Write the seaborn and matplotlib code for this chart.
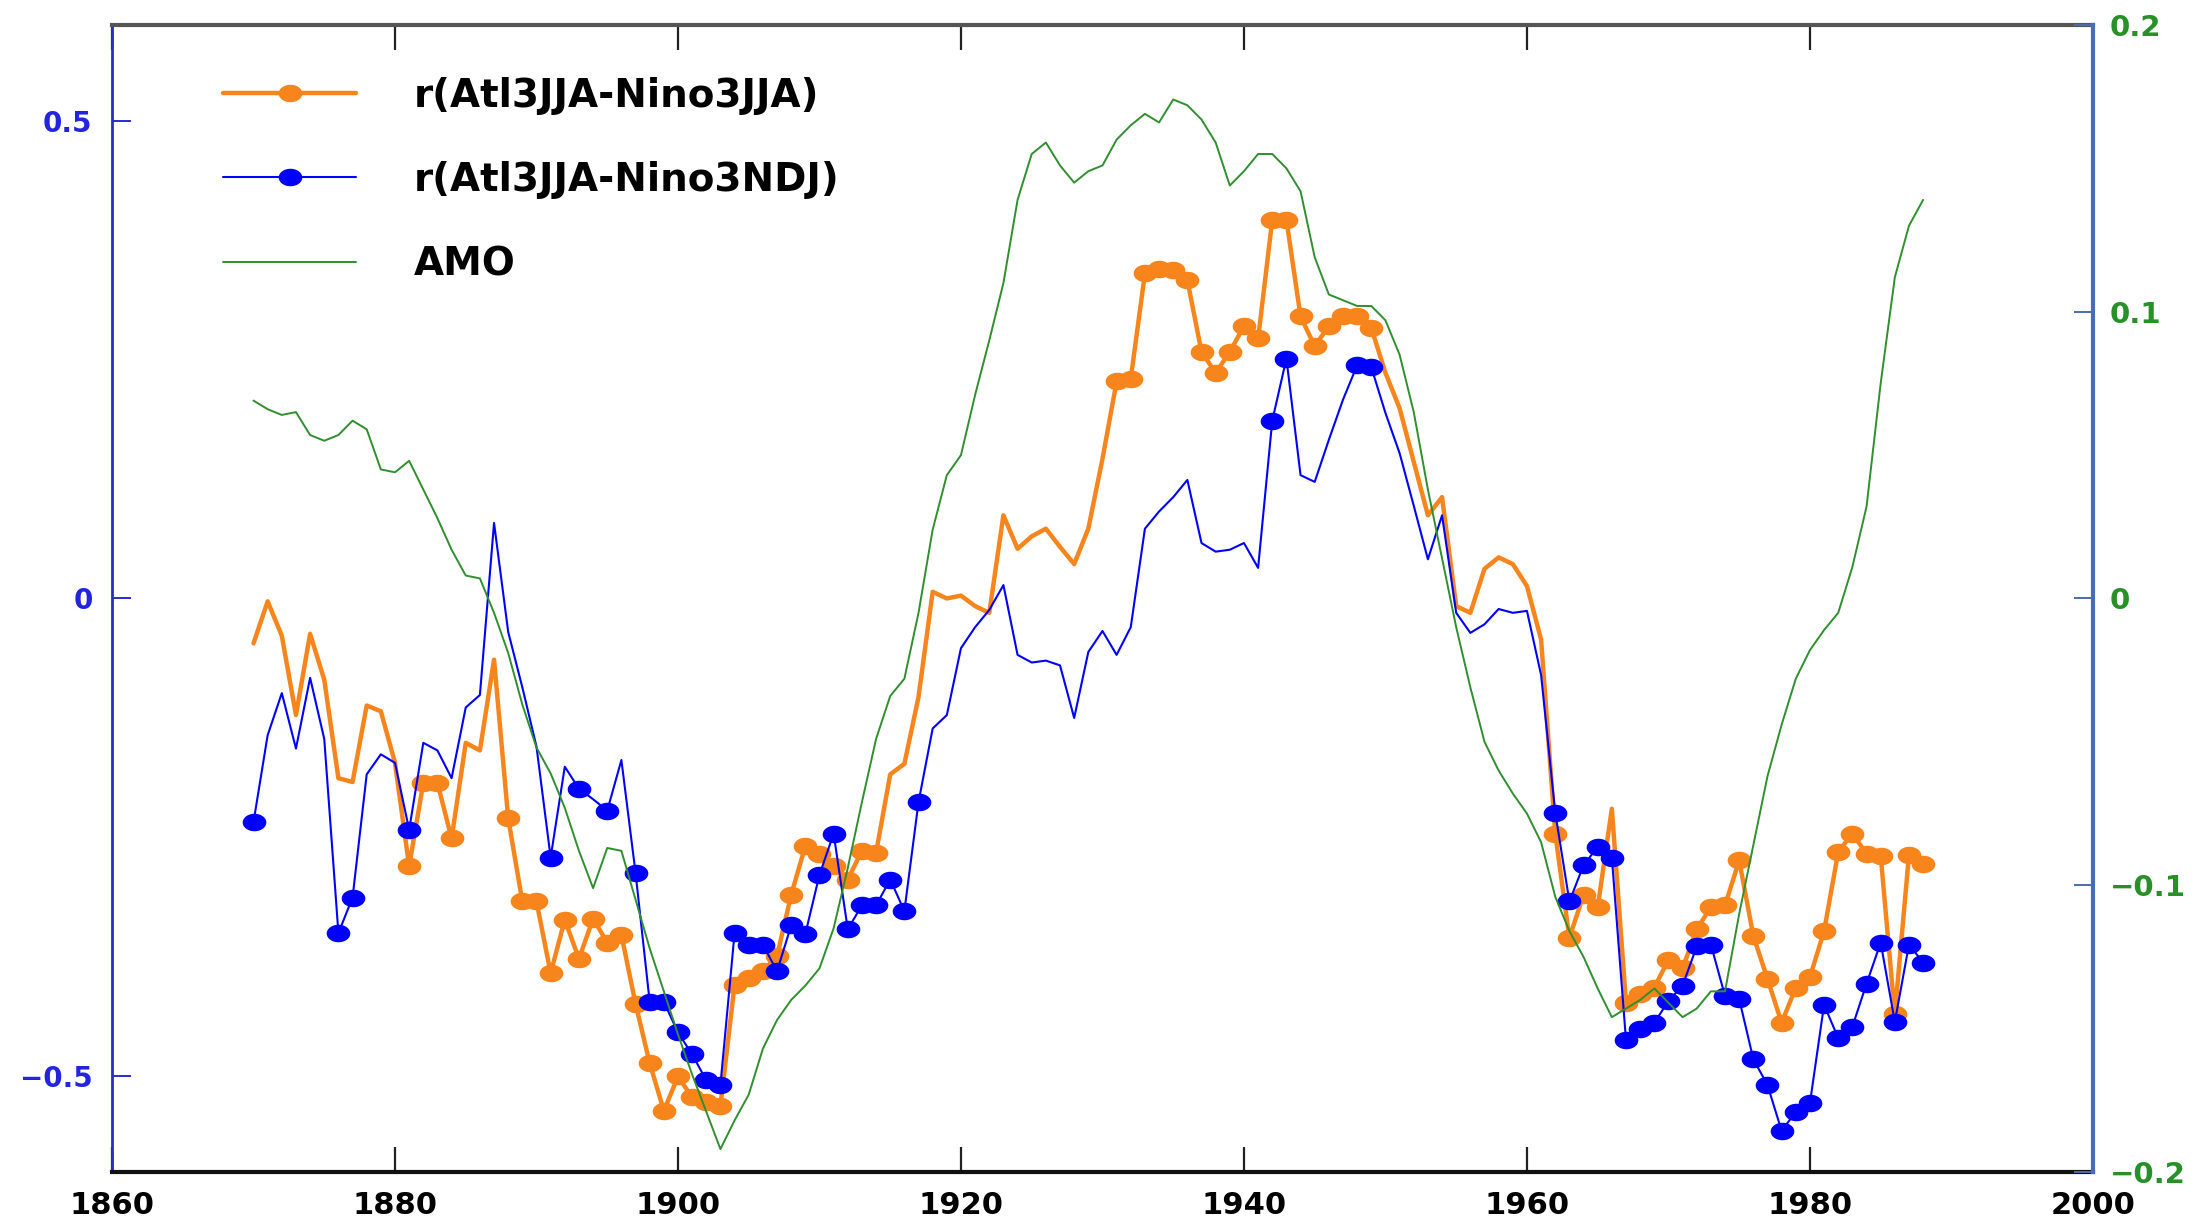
import numpy as np
import pandas as pd
import matplotlib
matplotlib.use("Agg")
import matplotlib.pyplot as plt
import seaborn as sns
from matplotlib.path import Path
from matplotlib.lines import Line2D

# ---------------- data ----------------
years = list(range(1870, 1989))

r_jja = [
    -0.047, -0.003, -0.039, -0.122, -0.037, -0.085, -0.188, -0.192, -0.112, -0.118,   # 1870-1879
    -0.172, -0.280, -0.193, -0.193, -0.251, -0.151, -0.159, -0.064, -0.230, -0.317,   # 1880-1889
    -0.317, -0.392, -0.336, -0.377, -0.335, -0.360, -0.352, -0.424, -0.486, -0.536,   # 1890-1899
    -0.500, -0.522, -0.527, -0.531, -0.404, -0.397, -0.390, -0.374, -0.310, -0.259,   # 1900-1909
    -0.267, -0.280, -0.294, -0.264, -0.266, -0.184, -0.173, -0.103, 0.007, 0.000,     # 1910-1919
    0.003, -0.008, -0.015, 0.087, 0.052, 0.065, 0.073, 0.054, 0.036, 0.073,          # 1920-1929
    0.146, 0.227, 0.230, 0.340, 0.345, 0.344, 0.333, 0.258, 0.236, 0.258,            # 1930-1939
    0.285, 0.272, 0.396, 0.396, 0.295, 0.264, 0.285, 0.295, 0.295, 0.283,            # 1940-1949
    0.236, 0.199, 0.143, 0.087, 0.106, -0.008, -0.015, 0.031, 0.043, 0.036,          # 1950-1959
    0.013, -0.043, -0.246, -0.355, -0.310, -0.323, -0.220, -0.423, -0.414, -0.407,   # 1960-1969
    -0.378, -0.387, -0.346, -0.323, -0.321, -0.274, -0.353, -0.398, -0.444, -0.407,  # 1970-1979
    -0.396, -0.348, -0.265, -0.246, -0.267, -0.269, -0.435, -0.268, -0.278,          # 1980-1988
]

r_ndj = [
    -0.234, -0.143, -0.099, -0.157, -0.083, -0.147, -0.350, -0.313, -0.184, -0.163,  # 1870-1879
    -0.172, -0.242, -0.151, -0.159, -0.188, -0.114, -0.101, 0.079, -0.035, -0.093,   # 1880-1889
    -0.155, -0.271, -0.176, -0.199, -0.210, -0.222, -0.169, -0.287, -0.422, -0.422,  # 1890-1899
    -0.454, -0.477, -0.504, -0.509, -0.350, -0.362, -0.362, -0.390, -0.342, -0.351,  # 1900-1909
    -0.289, -0.246, -0.346, -0.321, -0.321, -0.294, -0.327, -0.213, -0.136, -0.122,  # 1910-1919
    -0.052, -0.030, -0.012, 0.014, -0.059, -0.067, -0.065, -0.070, -0.125, -0.056,   # 1920-1929
    -0.034, -0.059, -0.030, 0.073, 0.091, 0.106, 0.124, 0.058, 0.049, 0.051,         # 1930-1939
    0.058, 0.032, 0.186, 0.251, 0.129, 0.122, 0.166, 0.208, 0.244, 0.242,            # 1940-1949
    0.194, 0.152, 0.097, 0.041, 0.087, -0.015, -0.036, -0.027, -0.011, -0.015,       # 1950-1959
    -0.013, -0.080, -0.224, -0.317, -0.279, -0.260, -0.271, -0.462, -0.450, -0.444,  # 1960-1969
    -0.421, -0.405, -0.364, -0.362, -0.416, -0.419, -0.482, -0.509, -0.557, -0.537,  # 1970-1979
    -0.528, -0.425, -0.460, -0.448, -0.403, -0.360, -0.443, -0.362, -0.381,          # 1980-1988
]

amo = [
    0.069, 0.066, 0.064, 0.065, 0.057, 0.055, 0.057, 0.062, 0.059, 0.045,            # 1870-1879
    0.044, 0.048, 0.038, 0.028, 0.017, 0.008, 0.007, -0.005, -0.019, -0.037,         # 1880-1889
    -0.052, -0.061, -0.073, -0.088, -0.101, -0.087, -0.088, -0.105, -0.122, -0.137,  # 1890-1899
    -0.152, -0.166, -0.179, -0.192, -0.182, -0.173, -0.157, -0.147, -0.140, -0.135,  # 1900-1909
    -0.129, -0.115, -0.094, -0.071, -0.049, -0.034, -0.028, -0.005, 0.024, 0.043,    # 1910-1919
    0.050, 0.071, 0.090, 0.110, 0.139, 0.155, 0.159, 0.151, 0.145, 0.149,            # 1920-1929
    0.151, 0.160, 0.165, 0.169, 0.166, 0.174, 0.172, 0.167, 0.159, 0.144,            # 1930-1939
    0.149, 0.155, 0.155, 0.150, 0.142, 0.119, 0.106, 0.104, 0.102, 0.102,            # 1940-1949
    0.097, 0.085, 0.065, 0.038, 0.014, -0.010, -0.031, -0.050, -0.060, -0.068,       # 1950-1959
    -0.075, -0.085, -0.104, -0.116, -0.125, -0.136, -0.146, -0.143, -0.140, -0.136,  # 1960-1969
    -0.141, -0.146, -0.143, -0.137, -0.137, -0.110, -0.086, -0.062, -0.044, -0.028,  # 1970-1979
    -0.018, -0.011, -0.005, 0.011, 0.032, 0.075, 0.112, 0.130, 0.139,                # 1980-1988
]

# years drawn with a dot
jja_dot_years = ([1881, 1882, 1883, 1884] + list(range(1888, 1915)) +
                 list(range(1931, 1950)) + [1962, 1963, 1964, 1965] +
                 list(range(1967, 1989)))
ndj_dot_years = ([1870, 1876, 1877, 1881, 1891, 1893, 1895] + list(range(1897, 1918)) +
                 [1942, 1943, 1948, 1949] + list(range(1962, 1989)))

labels = ["r(Atl3JJA-Nino3JJA)", "r(Atl3JJA-Nino3NDJ)", "AMO"]
xtick_vals = [1860, 1880, 1900, 1920, 1940, 1960, 1980, 2000]
left_ticks = [-0.5, 0, 0.5]
left_tick_labels = ["\u22120.5", "0", "0.5"]
right_ticks = [-0.2, -0.1, 0, 0.1, 0.2]
right_tick_labels = ["\u22120.2", "\u22120.1", "0", "0.1", "0.2"]

# ---------------- style ----------------
ORANGE = "#f7851c"
BLUE = "#0000ff"
GREEN = "#2f8f2f"

sns.set_theme(style="white")
plt.rcParams["font.family"] = ["DejaVu Sans"]

t = np.linspace(0, 2 * np.pi, 61)
ell = Path(np.c_[1.35 * np.cos(t), np.sin(t)], closed=True)

df = pd.DataFrame({"year": years, "jja": r_jja, "ndj": r_ndj, "amo": amo})

fig = plt.figure(figsize=(21.92, 12.23), dpi=100)
ax = fig.add_axes([0.0511, 0.0417, 0.9037, 0.9379])

sns.lineplot(data=df, x="year", y="jja", color=ORANGE, lw=3.2, ax=ax, zorder=2)
sns.scatterplot(data=df[df["year"].isin(jja_dot_years)], x="year", y="jja",
                marker=ell, s=290, color=ORANGE, edgecolor=ORANGE, linewidth=0,
                ax=ax, zorder=3)
sns.lineplot(data=df, x="year", y="ndj", color=BLUE, lw=1.5, ax=ax, zorder=4)
sns.scatterplot(data=df[df["year"].isin(ndj_dot_years)], x="year", y="ndj",
                marker=ell, s=290, color=BLUE, edgecolor=BLUE, linewidth=0,
                ax=ax, zorder=5)

ax2 = ax.twinx()
sns.lineplot(data=df, x="year", y="amo", color=GREEN, lw=1.4, ax=ax2)

ax.set_xlim(1860, 2000)
ax.set_ylim(-0.6, 0.6)
ax2.set_ylim(-0.2, 0.2)
for a in (ax, ax2):
    a.set_xlabel("")
    a.set_ylabel("")

ax.set_xticks(xtick_vals)
ax.set_xticklabels([str(v) for v in xtick_vals], fontweight="bold")
ax.set_yticks(left_ticks)
ax.set_yticklabels(left_tick_labels, fontweight="bold")
ax2.set_yticks(right_ticks)
ax2.set_yticklabels(right_tick_labels, fontweight="bold")

ax.tick_params(axis="x", direction="in", length=18, width=1.6, color="#222222",
               top=True, bottom=True, labelsize=22, pad=14, labelcolor="black")
ax.tick_params(axis="y", direction="in", length=14, width=1.4, color="#2a2ad0",
               labelsize=20, pad=14, labelcolor="#2323e0", left=True, right=False)
ax2.tick_params(axis="y", direction="in", length=14, width=1.4, color="#4a6cb3",
                labelsize=21, pad=12, labelcolor="#279127", right=True, left=False)

ax.spines["left"].set_color("#2a2ad0")
ax.spines["left"].set_linewidth(2.0)
ax.spines["bottom"].set_color("#111111")
ax.spines["bottom"].set_linewidth(3.0)
ax.spines["top"].set_color("#555555")
ax.spines["top"].set_linewidth(3.0)
ax.spines["right"].set_visible(False)
for s in ("left", "top", "bottom"):
    ax2.spines[s].set_visible(False)
ax2.spines["right"].set_color("#4a6cb3")
ax2.spines["right"].set_linewidth(3.0)

handles = [
    Line2D([], [], color=ORANGE, lw=3.2, marker=ell, markersize=17,
           markerfacecolor=ORANGE, markeredgewidth=0),
    Line2D([], [], color=BLUE, lw=1.5, marker=ell, markersize=17,
           markerfacecolor=BLUE, markeredgewidth=0),
    Line2D([], [], color=GREEN, lw=1.4),
]
ax2.legend(handles, labels, loc="upper left", bbox_to_anchor=(0.056, 0.955),
           frameon=False, prop={"size": 28, "weight": "bold"}, handlelength=3.43,
           handletextpad=1.47, labelspacing=1.19, borderaxespad=0, borderpad=0,
           labelcolor="black")

fig.savefig("out.png", dpi=100)
